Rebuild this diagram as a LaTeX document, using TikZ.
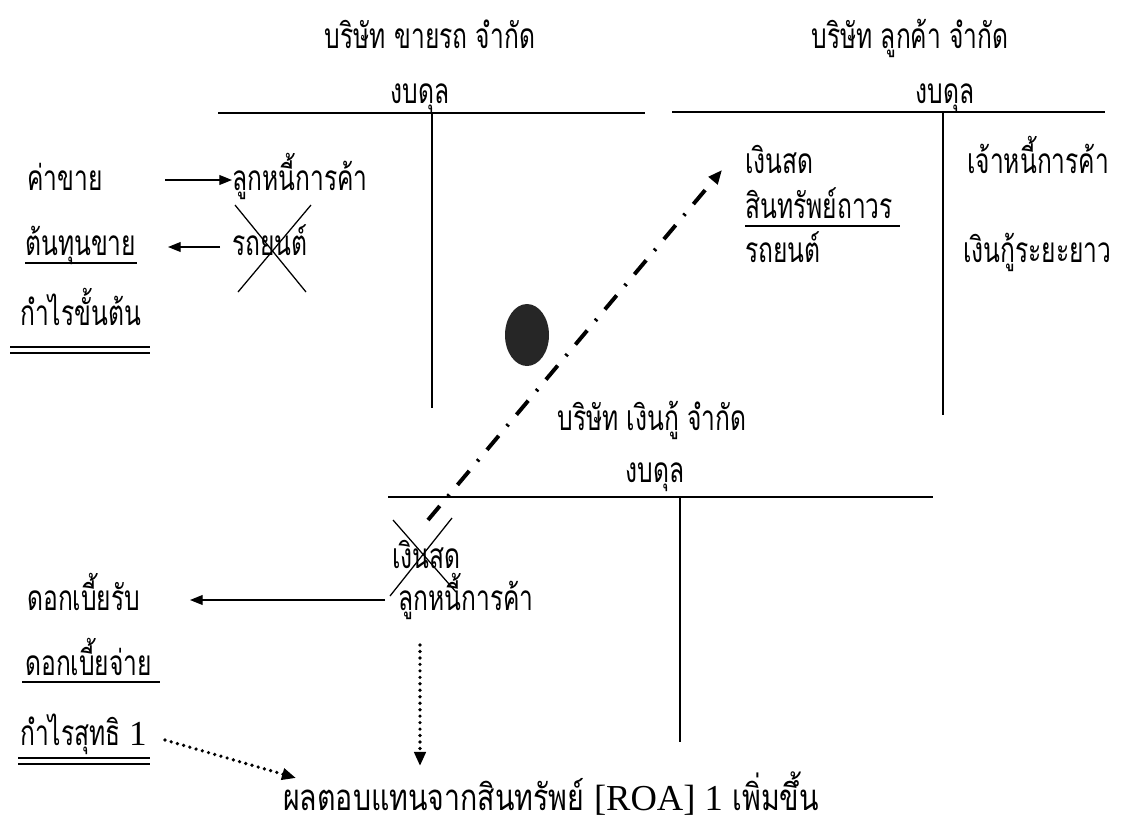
\documentclass[tikz,border=0pt]{standalone}
\usepackage{fontspec}
\setmainfont{Liberation Serif}
\newfontfamily\thaifont[Script=Thai,FakeStretch=0.7]{Loma}
\newfontfamily\thaiwide[Script=Thai,FakeStretch=0.78]{Loma}
\usetikzlibrary{arrows.meta}

\begin{document}
\begin{tikzpicture}[x=0.025cm, y=-0.025cm,
    txt/.style={font=\thaifont\fontsize{25}{27}\selectfont, inner sep=0pt, anchor=base west},
    ttl/.style={font=\thaifont\fontsize{25}{27}\selectfont, inner sep=0pt, anchor=base},
    rule/.style={line width=1pt},
    solidarr/.style={line width=0.9pt, -{Triangle[length=9pt, width=7pt]}},
    dotarr/.style={line width=2.6pt, line cap=round, dash pattern=on 0pt off 4.6pt, -{Triangle[length=10pt, width=8pt]}},
    dasharr/.style={line width=2.8pt, dash pattern=on 13pt off 9pt on 1.6pt off 9pt, -{Triangle[length=10pt, width=8pt]}},
    crossout/.style={line width=0.9pt}]
    \useasboundingbox (0,0) rectangle (1137,829);

    % Headings of the three companies
    \node[ttl] (carco) at (430,48) {บริษัท ขายรถ จำกัด};
    \node[ttl] (custco) at (910,48) {บริษัท ลูกค้า จำกัด};
    \node[ttl] (bal1) at (420,103) {งบดุล};
    \node[ttl] (bal2) at (945,103) {งบดุล};

    % T accounts at the top
    \draw[rule] (218,113) -- (645,113);
    \draw[rule] (432,113) -- (432,408);
    \draw[rule] (672,112) -- (1105,112);
    \draw[rule] (943,112) -- (943,415);

    % Car seller
    \node[txt] (sales) at (27,190) {ค่าขาย};
    \node[txt] (recv1) at (232,190) {ลูกหนี้การค้า};
    \node[txt] (cogs) at (25,255) {ต้นทุนขาย};
    \node[txt] (car1) at (232,255) {รถยนต์};
    \node[txt] (gross) at (20,325) {กำไรขั้นต้น};
    \draw[solidarr] (165,180) -- (recv1.west |- 0,180);
    \draw[solidarr] (220,247) -- (168,247);
    \draw[rule] (25,263) -- (137,263);
    \draw[rule] (10,347) -- (150,347);
    \draw[rule] (10,353) -- (150,353);
    \draw[crossout] (235,205) -- (306,292);
    \draw[crossout] (311,205) -- (238,292);

    % Customer
    \node[txt] (cash2) at (745,173) {เงินสด};
    \node[txt] (fixed) at (745,218) {สินทรัพย์ถาวร};
    \node[txt] (car2) at (745,262) {รถยนต์};
    \node[txt] (payab) at (967,173) {เจ้าหนี้การค้า};
    \node[txt] (loan) at (963,262) {เงินกู้ระยะยาว};
    \draw[rule] (745,226) -- (900,226);

    % Blot
    \fill[black!85] (527,335) ellipse (22 and 31);

    % Lender
    \node[ttl] (lendco) at (652,430) {บริษัท เงินกู้ จำกัด};
    \node[ttl] (bal3) at (655,482) {งบดุล};
    \draw[rule] (388,497) -- (933,497);
    \draw[rule] (680,497) -- (680,742);
    \node[txt] (cash3) at (392,568) {เงินสด};
    \node[txt] (recv3) at (398,610) {ลูกหนี้การค้า};
    \node[txt] (intin) at (27,610) {ดอกเบี้ยรับ};
    \node[txt] (intout) at (25,675) {ดอกเบี้ยจ่าย};
    \node[txt] (net) at (20,745) {กำไรสุทธิ {\rmfamily 1}};
    \node[txt, font=\thaiwide\fontsize{26}{28}\selectfont] (roa) at (283,810) {ผลตอบแทนจากสินทรัพย์ {\rmfamily [ROA] 1} เพิ่มขึ้น};
    \draw[crossout] (393,520) -- (456,592);
    \draw[crossout] (452,518) -- (390,596);
    \draw[solidarr] (385,600) -- (190,600);
    \draw[rule] (22,682) -- (160,682);
    \draw[rule] (18,758) -- (150,758);
    \draw[rule] (18,764) -- (150,764);

    % Flows between the statements
    \coordinate (dashfrom) at (428,520);
    \draw[dasharr] (dashfrom) -- (722,170);
    \draw[dotarr] (420,645) -- (420,766);
    \draw[dotarr] (165,740) -- (296,778);
\end{tikzpicture}
\end{document}
